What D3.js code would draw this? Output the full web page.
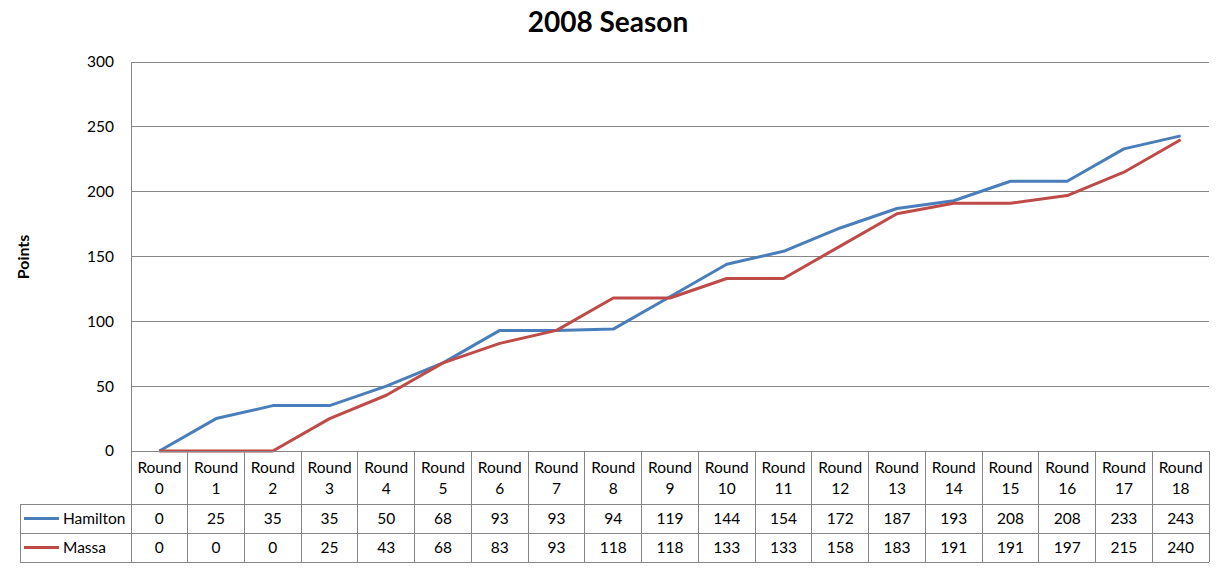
<!DOCTYPE html>
<html><head><meta charset="utf-8">
<script src="https://cdn.jsdelivr.net/npm/d3@7"></script>
<style>body{margin:0;background:#fff}svg{display:block}text{font-family:Lato,"Open Sans",sans-serif}</style>
</head><body>
<svg id="c" width="1219" height="568"></svg>
<script>
const categories = ["Round 0","Round 1","Round 2","Round 3","Round 4","Round 5","Round 6","Round 7","Round 8","Round 9","Round 10","Round 11","Round 12","Round 13","Round 14","Round 15","Round 16","Round 17","Round 18"];
const hamilton = [0,25,35,35,50,68,93,93,94,119,144,154,172,187,193,208,208,233,243];
const massa = [0,0,0,25,43,68,83,93,118,118,133,133,158,183,191,191,197,215,240];
const seriesNames = ["Hamilton","Massa"];
const seriesColors = ["#4a7ebb","#be4b48"];
const yTicks = [0,50,100,150,200,250,300];
const title = "2008 Season";
const yTitle = "Points";

const svg = d3.select("#c");
const L = 131, R = 1209, T = 62, B = 451;
const rowH = [53, 29, 29];
const tableLeft = 20;
const grid = "#868686";
const fs = 15.5;

const x = d3.scaleBand().domain(categories).range([L, R]);
const y = d3.scaleLinear().domain([0, 300]).range([B, T]);

svg.append("text").attr("x", 608).attr("y", 32).attr("text-anchor","middle")
  .attr("font-size", 28).attr("font-weight","bold").attr("fill","#000").text(title);

// gridlines
svg.append("g").selectAll("line").data(yTicks).join("line")
  .attr("x1", L).attr("x2", R).attr("y1", d=>y(d)).attr("y2", d=>y(d))
  .attr("stroke", grid).attr("stroke-width",1).attr("shape-rendering","crispEdges");
// y axis labels
const ya = svg.append("g").attr("transform",`translate(${L},0)`)
  .call(d3.axisLeft(y).tickValues(yTicks).tickSize(0).tickPadding(17));
ya.select(".domain").attr("stroke", grid).attr("shape-rendering","crispEdges");
ya.selectAll("text").attr("font-size",fs).attr("fill","#000").attr("font-family","Lato,sans-serif");

svg.append("text").attr("transform","translate(29,257) rotate(-90)").attr("text-anchor","middle")
  .attr("font-size",16).attr("font-weight","bold").text(yTitle);

// lines
const data = [hamilton, massa];
const line = d3.line().x((d,i)=>x(categories[i]) + x.bandwidth()/2).y(d=>y(d));
svg.append("g").selectAll("path").data(data).join("path")
  .attr("d", line).attr("fill","none").attr("stroke",(d,i)=>seriesColors[i])
  .attr("stroke-width",3).attr("stroke-linejoin","round");

// data table
const tb = svg.append("g").attr("shape-rendering","crispEdges");
const y1 = B + rowH[0], y2 = y1 + rowH[1], y3 = y2 + rowH[2];
tb.append("line").attr("x1",L).attr("x2",R).attr("y1",B).attr("y2",B).attr("stroke",grid);
[y1,y2,y3].forEach(yy=>tb.append("line").attr("x1",tableLeft).attr("x2",R).attr("y1",yy).attr("y2",yy).attr("stroke",grid));
tb.selectAll("line.v").data(categories.concat(["end"])).join("line")
  .attr("x1",(d,i)=>L + i*x.bandwidth()).attr("x2",(d,i)=>L + i*x.bandwidth())
  .attr("y1",B).attr("y2",y3).attr("stroke",grid);
tb.append("line").attr("x1",tableLeft).attr("x2",tableLeft).attr("y1",y1).attr("y2",y3).attr("stroke",grid);

const hdr = svg.append("g").selectAll("text").data(categories).join("text")
  .attr("x", d=>x(d)+x.bandwidth()/2).attr("text-anchor","middle").attr("font-size",fs).attr("fill","#000");
hdr.append("tspan").attr("x", d=>x(d)+x.bandwidth()/2).attr("y", B+22).text(d=>d.split(" ")[0]);
hdr.append("tspan").attr("x", d=>x(d)+x.bandwidth()/2).attr("y", B+43).text(d=>d.split(" ")[1]);

const rowsY = [y1, y2];
data.forEach((vals, s)=>{
  const cy = rowsY[s] + rowH[s+1]/2;
  svg.append("line").attr("x1",24).attr("x2",59).attr("y1",cy).attr("y2",cy)
    .attr("stroke",seriesColors[s]).attr("stroke-width",3);
  svg.append("text").attr("x",63).attr("y",cy+5.5).attr("font-size",fs).text(seriesNames[s]);
  svg.append("g").selectAll("text").data(vals).join("text")
    .attr("x",(d,i)=>x(categories[i])+x.bandwidth()/2).attr("y",cy+5.5)
    .attr("text-anchor","middle").attr("font-size",fs).text(d=>d);
});
</script>
</body></html>
